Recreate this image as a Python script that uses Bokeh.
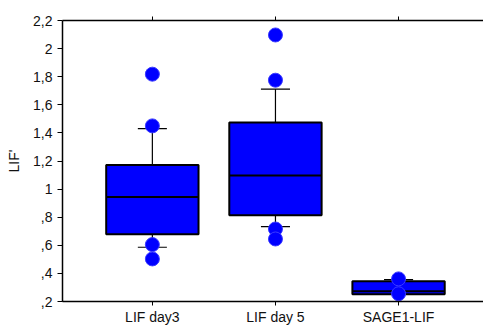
from bokeh.plotting import figure
from bokeh.models import FixedTicker, LinearAxis, Range1d, ColumnDataSource
from bokeh.embed import file_html
from bokeh.resources import INLINE

categories = ["LIF day3", "LIF day 5", "SAGE1-LIF"]
q1 = [0.678, 0.813, 0.252]
median = [0.944, 1.097, 0.273]
q3 = [1.171, 1.474, 0.344]
lower = [0.586, 0.733, 0.255]
upper = [1.431, 1.711, 0.355]
outliers = [
    [1.818, 1.45, 0.605, 0.503],
    [2.097, 1.775, 0.716, 0.645],
    [0.361, 0.255],
]
yticks = [0.2, 0.4, 0.6, 0.8, 1.0, 1.2, 1.4, 1.6, 1.8, 2.0, 2.2]
ytick_labels = [",2", ",4", ",6", ",8", "1", "1,2", "1,4", "1,6", "1,8", "2", "2,2"]

xpos = [i + 1 for i in range(len(categories))]
FONT = "Liberation Sans"
BLUE = "#0000FF"

p = figure(width=483, height=327, output_backend="svg", toolbar_location=None,
           x_range=Range1d(0.27, 3.69), y_range=Range1d(0.2, 2.2),
           min_border_left=62, min_border_right=0, min_border_top=20, min_border_bottom=26)
p.outline_line_color = None
p.xgrid.visible = False
p.ygrid.visible = False
p.background_fill_color = "white"
p.border_fill_color = "white"

src = ColumnDataSource(dict(x=xpos, q1=q1, med=median, q3=q3, lo=lower, up=upper))

# whiskers
p.segment(x0="x", y0="q3", x1="x", y1="up", source=src, line_color="black", line_width=1.2)
p.segment(x0="x", y0="q1", x1="x", y1="lo", source=src, line_color="black", line_width=1.2)
capw = 0.118
src_caps = ColumnDataSource(dict(xl=[x - capw for x in xpos], xr=[x + capw for x in xpos], lo=lower, up=upper))
p.segment(x0="xl", y0="up", x1="xr", y1="up", source=src_caps, line_color="black", line_width=1.2)
p.segment(x0="xl", y0="lo", x1="xr", y1="lo", source=src_caps, line_color="black", line_width=1.2)

# boxes
p.vbar(x="x", width=0.75, bottom="q1", top="q3", source=src, fill_color=BLUE,
       line_color="black", line_width=2)
hw = 0.375
src_med = ColumnDataSource(dict(xl=[x - hw for x in xpos], xr=[x + hw for x in xpos], med=median))
p.segment(x0="xl", y0="med", x1="xr", y1="med", source=src_med, line_color="black", line_width=2)

# points
px, py = [], []
for x, vals in zip(xpos, outliers):
    for v in vals:
        px.append(x)
        py.append(v)
p.scatter(px, py, size=14, fill_color=BLUE, line_color="#3a3aff", line_width=1)

# axes
for ax in (p.xaxis[0], p.yaxis[0]):
    ax.axis_line_color = "black"
    ax.axis_line_width = 1.5
    ax.major_tick_line_color = "black"
    ax.minor_tick_line_color = "black"
    ax.major_label_text_font = FONT
    ax.major_label_text_font_size = "14px"
    ax.major_label_text_color = "#111111"

p.yaxis.ticker = FixedTicker(ticks=yticks, minor_ticks=[0.1 * i + 0.1 for i in range(1, 21, 2)])
p.yaxis.major_label_overrides = {t: l for t, l in zip(yticks, ytick_labels)}
p.yaxis.major_tick_out = 5
p.yaxis.major_tick_in = 0
p.yaxis.minor_tick_out = 3
p.yaxis.minor_tick_in = 0
p.yaxis.major_label_standoff = 5
p.yaxis.axis_label = "LIF'"
p.yaxis.axis_label_text_font = FONT
p.yaxis.axis_label_text_font_size = "14px"
p.yaxis.axis_label_text_font_style = "normal"
p.yaxis.axis_label_text_color = "#111111"
p.yaxis.axis_label_standoff = 8

p.xaxis.ticker = FixedTicker(ticks=xpos, minor_ticks=[])
p.xaxis.major_label_overrides = {x: c for x, c in zip(xpos, categories)}
p.xaxis.major_tick_out = 4
p.xaxis.major_tick_in = 0
p.xaxis.major_label_standoff = 3

top = LinearAxis(ticker=FixedTicker(ticks=xpos, minor_ticks=[]))
top.major_label_text_font_size = "0px"
top.major_label_text_alpha = 0
top.major_tick_out = 4
top.major_tick_in = 0
top.axis_line_color = "black"
top.axis_line_width = 1.5
top.major_tick_line_color = "black"
top.major_label_standoff = 0
p.add_layout(top, "above")

open("out.html", "w").write(file_html(p, INLINE))
